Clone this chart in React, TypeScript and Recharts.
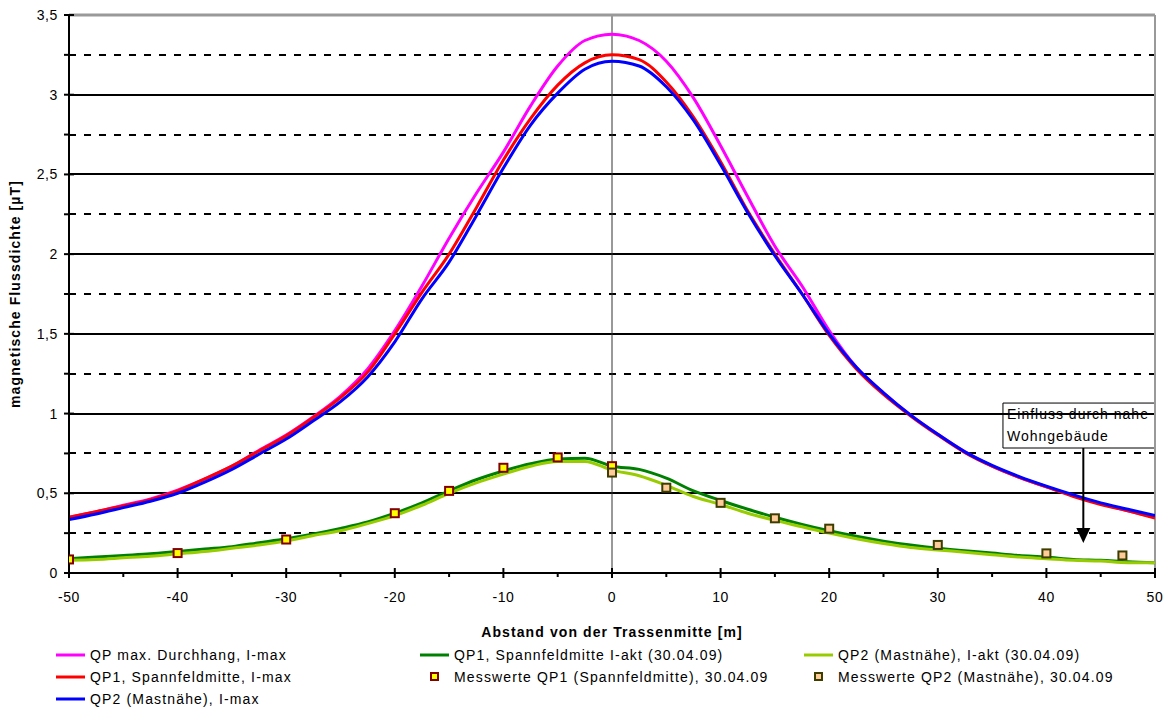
import React from 'react'
import {
  ComposedChart,
  Line,
  Scatter,
  XAxis,
  YAxis,
  ReferenceLine,
  ReferenceArea,
  ReferenceDot,
} from 'recharts'

// Abstand von der Trassenmitte [m]
const DIST = [
  -50, -47.5, -45, -42.5, -40, -37.5, -35, -32.5, -30, -27.5, -25, -22.5, -20, -17.5, -15, -12.5, -10, -7.5, -5, -2.5, 0,
  2.5, 5, 7.5, 10, 12.5, 15, 17.5, 20, 22.5, 25, 27.5, 30, 32.5, 35, 37.5, 40, 42.5, 45, 47.5, 50,
]

// magnetische Flussdichte [µT]
const QP_MAX = [
  0.35, 0.385, 0.425, 0.465, 0.52, 0.59, 0.67, 0.77, 0.865, 0.98, 1.11, 1.28, 1.52, 1.8, 2.1, 2.38, 2.64, 2.93, 3.18, 3.34, 3.38,
  3.34, 3.21, 2.98, 2.68, 2.36, 2.05, 1.8, 1.52, 1.29, 1.13, 0.99, 0.87, 0.76, 0.67, 0.6, 0.54, 0.485, 0.435, 0.39, 0.35,
]
const QP1_MAX = [
  0.35, 0.385, 0.42, 0.46, 0.515, 0.59, 0.67, 0.765, 0.86, 0.975, 1.1, 1.26, 1.5, 1.76, 2.0, 2.29, 2.59, 2.85, 3.06, 3.2, 3.25,
  3.22, 3.08, 2.86, 2.58, 2.27, 2.0, 1.75, 1.49, 1.28, 1.12, 0.985, 0.865, 0.755, 0.67, 0.6, 0.54, 0.48, 0.43, 0.39, 0.345,
]
const QP2_MAX = [
  0.335, 0.37, 0.41, 0.45, 0.5, 0.57, 0.65, 0.745, 0.84, 0.955, 1.075, 1.23, 1.45, 1.72, 1.95, 2.24, 2.54, 2.81, 3.01, 3.16, 3.21,
  3.18, 3.05, 2.84, 2.56, 2.26, 1.99, 1.75, 1.5, 1.29, 1.13, 0.99, 0.87, 0.76, 0.675, 0.605, 0.545, 0.49, 0.44, 0.4, 0.36,
]
const QP1_AKT = [
  0.09, 0.1, 0.11, 0.12, 0.135, 0.15, 0.165, 0.19, 0.215, 0.245, 0.28, 0.32, 0.375, 0.44, 0.515, 0.585, 0.64, 0.685, 0.715, 0.72, 0.67,
  0.65, 0.595, 0.515, 0.455, 0.4, 0.35, 0.305, 0.265, 0.23, 0.2, 0.175, 0.155, 0.14, 0.125, 0.11, 0.1, 0.085, 0.08, 0.07, 0.065,
]
const QP2_AKT = [
  0.08, 0.085, 0.095, 0.105, 0.12, 0.135, 0.155, 0.175, 0.2, 0.235, 0.265, 0.31, 0.36, 0.425, 0.5, 0.565, 0.62, 0.67, 0.7, 0.7, 0.645,
  0.61, 0.55, 0.48, 0.43, 0.375, 0.33, 0.29, 0.25, 0.215, 0.185, 0.16, 0.145, 0.13, 0.115, 0.1, 0.09, 0.08, 0.075, 0.065, 0.065,
]

// Messwerte 30.04.09
const MESS1_X = [-50, -40, -30, -20, -15, -10, -5, 0]
const MESS1_Y = [0.085, 0.125, 0.21, 0.375, 0.515, 0.66, 0.725, 0.67]
const MESS2_X = [0, 5, 10, 15, 20, 30, 40, 47]
const MESS2_Y = [0.63, 0.535, 0.44, 0.343, 0.278, 0.176, 0.123, 0.11]

const X_TICKS = [-50, -45, -40, -35, -30, -25, -20, -15, -10, -5, 0, 5, 10, 15, 20, 25, 30, 35, 40, 45, 50]
const Y_TICKS = [0, 0.25, 0.5, 0.75, 1, 1.25, 1.5, 1.75, 2, 2.25, 2.5, 2.75, 3, 3.25, 3.5]
const GRID_SOLID = [0.5, 1, 1.5, 2, 2.5, 3]
const GRID_DASHED = [0.25, 0.75, 1.25, 1.75, 2.25, 2.75, 3.25]

const FONT = '"Liberation Sans", Arial, sans-serif'

const curveData = DIST.map((x, i) => ({
  x,
  qpMax: QP_MAX[i],
  qp1Max: QP1_MAX[i],
  qp2Max: QP2_MAX[i],
  qp1Akt: QP1_AKT[i],
  qp2Akt: QP2_AKT[i],
}))
const mess1Data = MESS1_X.map((x, i) => ({ x, m1: MESS1_Y[i] }))
const mess2Data = MESS2_X.map((x, i) => ({ x, m2: MESS2_Y[i] }))

const fmt = (v: number) => String(v).replace('.', ',')

function XTick({ x, y, payload }: any) {
  const v = payload.value
  const major = v % 10 === 0
  if (!major) return <line x1={x} x2={x} y1={y} y2={y + 4} stroke="#000" strokeWidth={2} />
  return (
    <g>
      <line x1={x} x2={x} y1={y - 5} y2={y + 5} stroke="#000" strokeWidth={2} />
      <text x={x} y={y + 29} textAnchor="middle" fontSize={14} fontFamily={FONT} letterSpacing={0.6} fill="#000">
        {v}
      </text>
    </g>
  )
}

function YTick({ x, y, payload }: any) {
  const v = payload.value
  const major = Math.abs(v * 2 - Math.round(v * 2)) < 1e-6
  if (!major) return <line x1={x - 5} x2={x} y1={y} y2={y} stroke="#000" strokeWidth={2} />
  return (
    <g>
      <line x1={x - 5} x2={x + 5} y1={y} y2={y} stroke="#000" strokeWidth={2} />
      <text x={x - 11} y={y + 5} textAnchor="end" fontSize={14} fontFamily={FONT} letterSpacing={0.6} fill="#000">
        {fmt(v)}
      </text>
    </g>
  )
}

function XTitle({ viewBox }: any) {
  const { x, y, width } = viewBox
  return (
    <text x={x + width / 2} y={y + 64} textAnchor="middle" fontSize={14} fontWeight="bold" fontFamily={FONT} letterSpacing={1.1} fill="#000">
      Abstand von der Trassenmitte [m]
    </text>
  )
}

function YTitle({ viewBox }: any) {
  const { x, y, height } = viewBox
  const cx = x + 1
  const cy = y + height / 2
  return (
    <text
      x={cx}
      y={cy}
      transform={`rotate(-90, ${cx}, ${cy})`}
      textAnchor="middle"
      fontSize={14}
      fontWeight="bold"
      fontFamily={FONT}
      letterSpacing={1.1}
      fill="#000"
    >
      magnetische Flussdichte [µT]
    </text>
  )
}

const square = (fill: string, stroke: string) => (p: any) => (
  <rect x={p.cx - 4} y={p.cy - 4} width={8} height={8} fill={fill} stroke={stroke} strokeWidth={2} />
)

const arrowHead = (p: any) => (
  <path d={`M${p.cx - 7},${p.cy - 15} L${p.cx + 7},${p.cy - 15} L${p.cx},${p.cy} Z`} fill="#000" />
)

function NoteLabel({ viewBox }: any) {
  const { x, y } = viewBox
  return (
    <text fontSize={14} fontFamily={FONT} letterSpacing={1} fill="#000">
      <tspan x={x + 4} y={y + 16}>Einfluss durch nahe</tspan>
      <tspan x={x + 4} y={y + 38}>Wohngebäude</tspan>
    </text>
  )
}

function LegendItem({ left, top, color, fill, marker, label }: any) {
  return (
    <div style={{ position: 'absolute', left, top: top - 9, height: 18, display: 'flex', alignItems: 'center' }}>
      <svg width={31} height={18}>
        {marker ? (
          <rect x={11} y={5} width={7} height={7} fill={fill} stroke={color} strokeWidth={2} />
        ) : (
          <line x1={0} x2={29} y1={9} y2={9} stroke={color} strokeWidth={3} />
        )}
      </svg>
      <span style={{ marginLeft: 3, fontSize: 14, letterSpacing: 1.15, whiteSpace: 'nowrap' }}>{label}</span>
    </div>
  )
}

export default function App() {
  return (
    <div style={{ position: 'relative', width: 1166, height: 700, fontFamily: FONT, color: '#000' }}>
      <ComposedChart
        width={1166}
        height={640}
        data={curveData}
        margin={{ top: 7, right: 19, bottom: 45, left: 11 }}
      >
        {GRID_SOLID.map((v) => (
          <ReferenceLine key={'s' + v} y={v} stroke="#000" strokeWidth={2} shapeRendering="crispEdges" />
        ))}
        {GRID_DASHED.map((v) => (
          <ReferenceLine
            key={'d' + v}
            y={v}
            stroke="#000"
            strokeWidth={2}
            strokeDasharray="7 8"
            shapeRendering="crispEdges"
          />
        ))}
        <ReferenceLine x={0} stroke="#333" strokeWidth={1} />
        <ReferenceLine y={3.5} stroke="#999" strokeWidth={3} />
        <ReferenceLine x={50} stroke="#999" strokeWidth={2} />
        <XAxis
          type="number"
          dataKey="x"
          domain={[-50, 50]}
          ticks={X_TICKS}
          interval={0}
          allowDataOverflow
          tickLine={false}
          tickSize={0}
          tickMargin={0}
          height={30}
          axisLine={{ stroke: '#000', strokeWidth: 2 }}
          tick={<XTick />}
          label={<XTitle />}
        />
        <YAxis
          type="number"
          domain={[0, 3.5]}
          ticks={Y_TICKS}
          interval={0}
          allowDataOverflow
          tickLine={false}
          tickSize={0}
          tickMargin={0}
          width={50}
          axisLine={{ stroke: '#000', strokeWidth: 2 }}
          tick={<YTick />}
          label={<YTitle />}
        />
        <Line type="monotone" dataKey="qpMax" stroke="#ff00ff" strokeWidth={3} dot={false} isAnimationActive={false} />
        <Line type="monotone" dataKey="qp1Max" stroke="#ff0000" strokeWidth={3} dot={false} isAnimationActive={false} />
        <Line type="monotone" dataKey="qp2Max" stroke="#0000ff" strokeWidth={3} dot={false} isAnimationActive={false} />
        <Line type="monotone" dataKey="qp1Akt" stroke="#008000" strokeWidth={3} dot={false} isAnimationActive={false} />
        <Line type="monotone" dataKey="qp2Akt" stroke="#99cc00" strokeWidth={3} dot={false} isAnimationActive={false} />
        <Scatter data={mess1Data} dataKey="m1" shape={square('#ffff00', '#800000')} isAnimationActive={false} />
        <Scatter data={mess2Data} dataKey="m2" shape={square('#ffcc99', '#3d3d00')} isAnimationActive={false} />
        <ReferenceArea
          x1={36}
          x2={50}
          y1={0.784}
          y2={1.066}
          fill="#fff"
          fillOpacity={1}
          stroke="#000"
          strokeWidth={1}
          label={<NoteLabel />}
        />
        <ReferenceLine
          segment={[
            { x: 43.4, y: 0.784 },
            { x: 43.4, y: 0.28 },
          ]}
          stroke="#000"
          strokeWidth={2}
        />
        <ReferenceDot x={43.4} y={0.188} shape={arrowHead} />
      </ComposedChart>

      <LegendItem left={48} top={647} color="#ff00ff" label="QP max. Durchhang, I-max" />
      <LegendItem left={48} top={669} color="#ff0000" label="QP1, Spannfeldmitte, I-max" />
      <LegendItem left={48} top={691} color="#0000ff" label="QP2 (Mastnähe), I-max" />
      <LegendItem left={412} top={647} color="#008000" label="QP1, Spannfeldmitte I-akt (30.04.09)" />
      <LegendItem left={412} top={669} color="#800000" fill="#ffff00" marker label="Messwerte QP1 (Spannfeldmitte), 30.04.09" />
      <LegendItem left={796} top={647} color="#99cc00" label="QP2 (Mastnähe), I-akt (30.04.09)" />
      <LegendItem left={796} top={669} color="#3d3d00" fill="#ffcc99" marker label="Messwerte QP2 (Mastnähe), 30.04.09" />
    </div>
  )
}
